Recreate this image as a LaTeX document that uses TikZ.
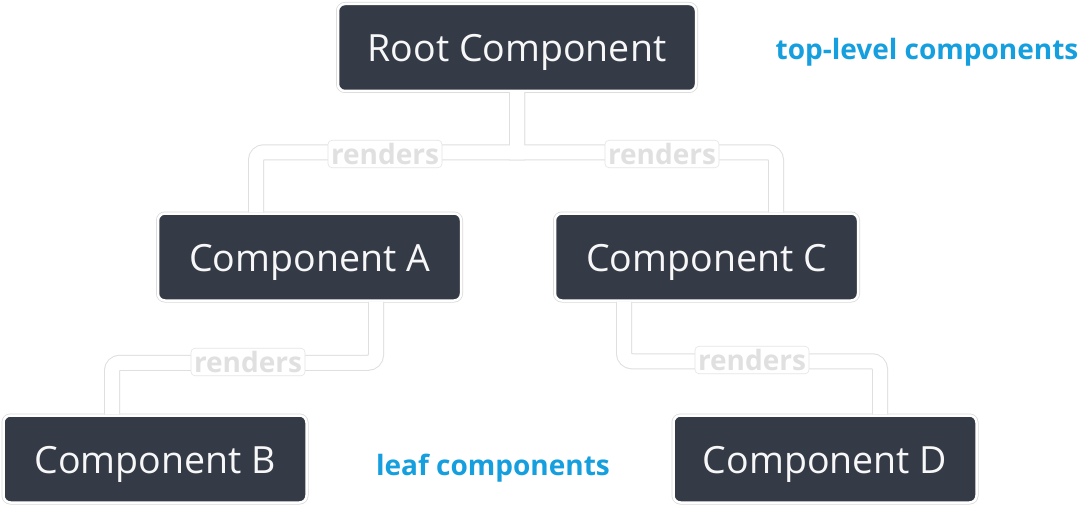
\documentclass[tikz,border=0pt]{standalone}
\usepackage{xcolor}
\usepackage{fontspec}
\setmainfont{Open Sans}
\usepackage{tikz}
\usetikzlibrary{positioning}
\definecolor{cardbg}{HTML}{343A46}
\definecolor{notecol}{HTML}{169FDF}
\tikzset{
    comp/.style={rectangle, rounded corners=7pt, fill=cardbg, draw=white, line width=2.5pt,
        preaction={draw=gray!30, line width=4pt}, text=white!96!cardbg,
        minimum width=303pt, minimum height=87pt, inner sep=0pt,
        text height=29pt, text depth=0pt,
        font=\fontsize{37.5}{44}\selectfont},
    note/.style={text=notecol, inner sep=0pt, font=\fontsize{28}{34}\selectfont\bfseries},
    rlabel/.style={fill=white, draw=gray!20, line width=0.6pt, rounded corners=4pt,
        text=white!88!black, inner sep=3pt, font=\fontsize{28}{34}\selectfont\bfseries}
}
\begin{document}
\begin{tikzpicture}[x=1pt,y=-1pt]
    \fill[white] (0,0) rectangle (1080,511);
    \useasboundingbox (0,0) rectangle (1080,511);
    \node[comp, minimum width=358pt] at (517,47.5) (root) {Root Component};
    \node[comp] at (309.5,257) (ca) {Component A};
    \node[comp] at (706.5,257) (cc) {Component C};
    \node[comp] at (155,459) (cb) {Component B};
    \node[comp] at (825,459) (cd) {Component D};
    \foreach \w/\c in {16/gray!25,14/white} {
        \draw[line width=\w pt, draw=\c] (root.south) -- ++(0,60) [rounded corners=8pt] -| ([xshift=-53.5pt]ca.north);
        \draw[line width=\w pt, draw=\c] (root.south) -- ++(0,60) [rounded corners=8pt] -| ([xshift=69.5pt]cc.north);
        \draw[line width=\w pt, draw=\c, rounded corners=8pt] ([xshift=66.5pt]ca.south) -- ++(0,61) -| ([xshift=-43pt]cb.north);
        \draw[line width=\w pt, draw=\c, rounded corners=8pt] ([xshift=-82.5pt]cc.south) -- ++(0,59.5) -| ([xshift=55pt]cd.north);
    }
    \node[rlabel] at (385,154) (r1) {renders};
    \node[rlabel] at (662,154) (r2) {renders};
    \node[rlabel] at (248,362) (r3) {renders};
    \node[rlabel] at (752,360) (r4) {renders};
    \node[note] at (927,52) (top) {top-level components};
    \node[note] at (493,468) (leaf) {leaf components};
\end{tikzpicture}
\end{document}
